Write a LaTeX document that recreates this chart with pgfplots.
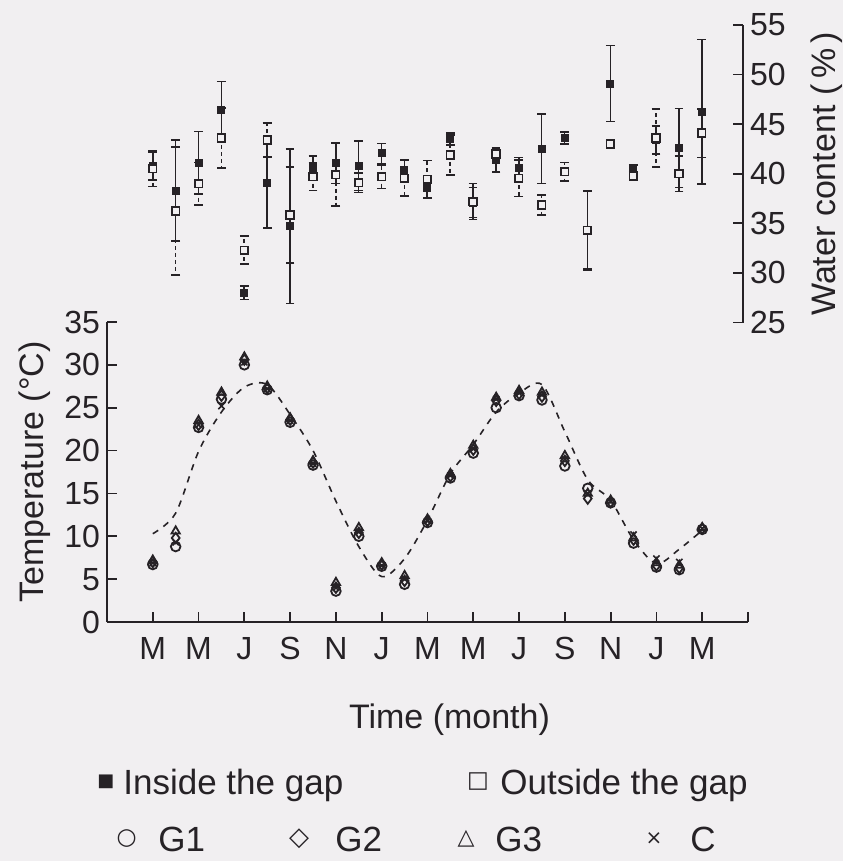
\documentclass[border=0pt]{standalone}
\usepackage{fontspec}
\setmainfont{Liberation Sans}
\newfontfamily\symfont{DejaVu Sans}
\usepackage{pgfplots}
\usepackage{pgfplotstable}
\pgfplotsset{compat=1.18}

\definecolor{ink}{RGB}{38,34,38}
\definecolor{paper}{RGB}{241,239,241}

% Soil temperature at the four plots, and air temperature (dashed line)
\pgfplotstableread{
m   g1    g2    g3    c     air
0   6.7   7.0   7.2   6.9   10.3
1   8.8   9.8   10.6  9.3   12.7
2   22.7  23.0  23.5  23.0  19.9
3   26.0  26.4  26.8  25.2  24.5
4   30.0  30.6  30.9  30.3  27.4
5   27.1  27.3  27.5  27.2  27.7
6   23.3  23.6  23.8  23.5  24.2
7   18.3  18.6  18.8  18.5  20.0
8   3.6   4.0   4.6   4.0   14.1
9   10.0  10.4  11.0  10.5  8.8
10  6.5   6.7   6.9   6.6   5.3
11  4.4   4.8   5.4   5.0   7.4
12  11.6  11.8  12.0  11.8  11.9
13  16.8  17.0  17.3  17.1  17.3
14  19.7  20.1  20.6  20.2  20.7
15  25.0  25.8  26.2  26.0  24.5
16  26.4  26.6  27.0  26.7  26.7
17  25.9  26.3  26.8  26.5  27.7
18  18.2  18.8  19.4  19.0  22.2
19  15.6  14.4  15.0  15.0  16.6
20  13.9  14.0  14.2  14.1  14.2
21  9.2   9.6   9.8   10.2  9.6
22  6.4   6.6   6.9   7.4   6.8
23  6.1   6.3   6.6   7.0   8.5
24  10.8  10.9  11.0  10.9  10.7
}\temperature

% Soil water content: mean and error, inside and outside the gap
\pgfplotstableread{
m   fin    fe    out    oe
0   40.8   1.4   40.5   1.8
1   38.3   5.1   36.25  6.45
2   41.1   3.15  39.0   2.15
3   46.4   2.9   43.6   3.05
4   28.0   0.7   32.3   1.4
5   39.1   4.6   43.4   1.7
6   34.7   7.8   35.85  4.85
7   40.6   1.2   39.7   1.4
8   41.05  2.05  39.9   3.15
9   40.8   2.5   39.1   1.0
10  42.05  1.0   39.7   1.2
11  40.4   1.0   39.55  1.8
12  38.6   1.0   39.45  1.9
13  43.5   0.6   41.9   2.0
14  37.1   1.5   37.2   1.8
15  41.4   1.2   42.0   0.5
16  40.55  1.1   39.55  1.85
17  42.5   3.5   36.85  1.0
18  43.6   0.6   40.2   0.95
19  34.3   3.9   34.3   4.0
20  49.1   3.85  43.0   0.3
21  40.4   0.5   39.8   0.4
22  43.4   1.4   43.6   2.9
23  42.6   4.0   40.0   1.8
24  46.25  7.3   44.1   2.45
}\water

\pgfplotsset{
  base/.style={
    scale only axis,
    clip=false,
    /pgf/number format/assume math mode=true,
    axis line style={ink, line width=0.9pt, -},
    tick style={ink, line width=0.9pt},
    tick align=inside,
    major tick length=5pt,
    tick label style={font=\fontsize{16}{19}\selectfont, text=ink},
    label style={font=\fontsize{17}{20}\selectfont, text=ink},
  },
}

\begin{document}
\begin{tikzpicture}
\fill[paper] (0,0) rectangle (421.5pt,-430.5pt);
\path[use as bounding box] (0,0) rectangle (421.5pt,-430.5pt);

% Temperature panel
\begin{axis}[
  base,
  at={(53.5pt,-311pt)}, anchor=south west,
  width=320.5pt, height=150pt,
  xmin=-2, xmax=26, ymin=0, ymax=35,
  axis x line*=bottom, axis y line*=left,
  xtick={0,2,...,26},
  xticklabels={M,M,J,S,N,J,M,M,J,S,N,J,M,},
  xticklabel style={yshift=-4pt},
  ytick={0,5,...,35},
  ylabel={Temperature (°C)},
]
\addplot[ink, line width=0.8pt, dash pattern=on 3.2pt off 3.2pt, smooth, tension=0.5]
  table[x=m, y=air] {\temperature};
\addplot[only marks, mark=o, mark size=2.4pt, ink, mark options={line width=0.9pt}]
  table[x=m, y=g1] {\temperature};
\addplot[only marks, mark=diamond, mark size=2.6pt, ink, mark options={line width=0.9pt}]
  table[x=m, y=g2] {\temperature};
\addplot[only marks, mark=triangle, mark size=2.4pt, ink, mark options={line width=0.9pt}]
  table[x=m, y=g3] {\temperature};
\addplot[only marks, mark=x, mark size=2.2pt, ink, mark options={line width=0.8pt}]
  table[x=m, y=c] {\temperature};
\end{axis}

% Water content panel
\begin{axis}[
  base,
  at={(53.5pt,-161.25pt)}, anchor=south west,
  width=318pt, height=148.75pt,
  xmin=-2, xmax=25.8, ymin=25, ymax=55,
  axis x line=none, axis y line*=right,
  ytick={25,30,...,55},
  ylabel={Water content (\,\%\,)},
  ylabel shift=5.5pt,
]
\addplot[only marks, ink, mark=square*, mark size=1.7pt,
  mark options={fill=ink, line width=0.6pt},
  error bars/.cd, y dir=both, y explicit,
  error mark options={rotate=90, mark size=2.2pt, line width=0.8pt, ink},
  error bar style={line width=0.8pt, ink}]
  table[x=m, y=fin, y error=fe] {\water};
\addplot[only marks, ink, mark=square*, mark size=1.9pt,
  mark options={fill=paper, line width=0.8pt},
  error bars/.cd, y dir=both, y explicit,
  error mark options={rotate=90, mark size=2.2pt, line width=0.8pt, ink},
  error bar style={line width=0.8pt, ink, dash pattern=on 2pt off 1.5pt}]
  table[x=m, y=out, y error=oe] {\water};
\end{axis}

% Axis title and key below the temperature panel
\node[anchor=base west, text=ink, font=\fontsize{17}{20}\selectfont] at (171pt,-364pt) {Time (month)};

\begin{scope}[every node/.style={anchor=base west, text=ink, inner sep=0pt, font=\fontsize{17.5}{20}\selectfont}]
\node at (61.5pt,-397pt) {Inside the gap};
\node at (250pt,-397pt) {Outside the gap};
\node at (79pt,-425.5pt) {G1};
\node at (167.5pt,-425.5pt) {G2};
\node at (247.5pt,-425.5pt) {G3};
\node at (345pt,-425.5pt) {C};
\end{scope}
\begin{scope}[every node/.style={anchor=center, text=ink, inner sep=0pt}]
\node at (53pt,-390.8pt) {\symfont\fontsize{9}{11}\selectfont ■};
\node at (239pt,-390.8pt) {\symfont\fontsize{11.5}{13}\selectfont □};
\node at (63.3pt,-419.3pt) {\symfont\fontsize{11.5}{13}\selectfont ○};
\node at (149.5pt,-419.3pt) {\symfont\fontsize{13}{15}\selectfont ◇};
\node at (233pt,-419.3pt) {\symfont\fontsize{11}{13}\selectfont △};
\node at (327pt,-419.3pt) {\symfont\fontsize{10}{12}\selectfont ×};
\end{scope}
\end{tikzpicture}
\end{document}
